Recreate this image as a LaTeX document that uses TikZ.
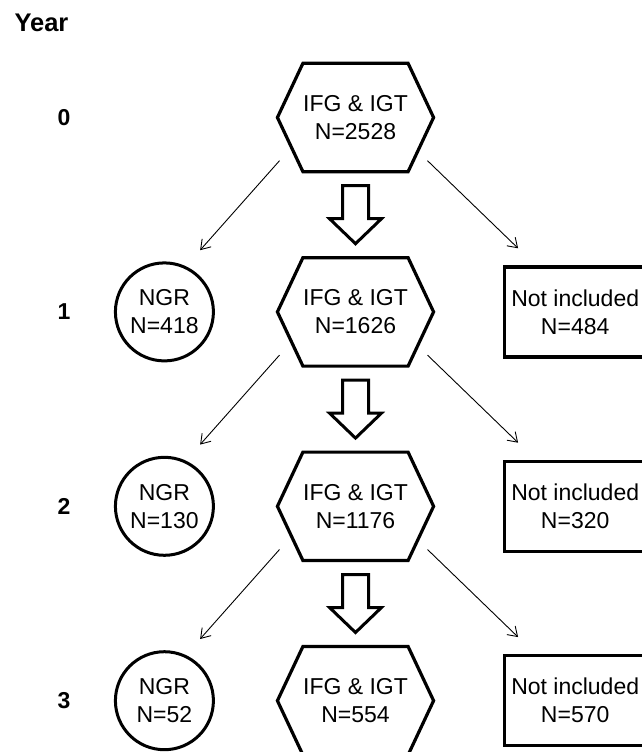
\documentclass[tikz,border=0pt]{standalone}
\usepackage{fontspec}
\setmainfont{Liberation Sans}
\usetikzlibrary{positioning,calc,arrows.meta}
\tikzset{
    hexnode/.style={rectangle, minimum width=102pt, minimum height=108pt, inner sep=0pt, align=center, font=\fontsize{23pt}{28pt}\selectfont},
    hexline/.style={draw=black, line width=3.2pt},
    ngrnode/.style={circle, draw=black, line width=3pt, minimum size=98pt, inner sep=0pt, align=center, font=\fontsize{23pt}{28pt}\selectfont},
    outnode/.style={rectangle, draw=black, line width=3.2pt, minimum width=141pt, minimum height=90pt, inner sep=0pt, align=center, font=\fontsize{23pt}{28pt}\selectfont},
    yearlabel/.style={font=\fontsize{23pt}{28pt}\selectfont\bfseries},
    bigarrow/.style={draw=black, line width=3pt, fill=white},
    thinarrow/.style={-{Straight Barb[length=9pt,width=12pt]}, line width=0.9pt}
}
\begin{document}
\begin{tikzpicture}[x=1pt, y=-1pt]
\useasboundingbox (0,0) rectangle (641,752);

\node[yearlabel, anchor=west, font=\fontsize{25.5pt}{30pt}\selectfont\bfseries] (year) at (11,22.5) {Year};

% centre column
\node[hexnode] (h0) at (355.5,117.5) {IFG \& IGT\\N=2528};
\node[hexnode, below=86pt of h0] (h1) {IFG \& IGT\\N=1626};
\node[hexnode, below=86pt of h1] (h2) {IFG \& IGT\\N=1176};
\node[hexnode, below=86pt of h2] (h3) {IFG \& IGT\\N=554};

\foreach \h in {h0,h1,h2,h3}
  \draw[hexline] (\h.north west) -- (\h.north east) -- ([xshift=25.5pt]\h.east)
    -- (\h.south east) -- (\h.south west) -- ([xshift=-25.5pt]\h.west) -- cycle;

% block arrows between the rows
\draw[bigarrow] ([shift={(-13pt,-14pt)}]h0.south) -- ++(0,33) -- ++(-13,0) -- ++(26,25) -- ++(26,-25) -- ++(-13,0) -- ++(0,-33) -- cycle;
\draw[bigarrow] ([shift={(-13pt,-14pt)}]h1.south) -- ++(0,33) -- ++(-13,0) -- ++(26,25) -- ++(26,-25) -- ++(-13,0) -- ++(0,-33) -- cycle;
\draw[bigarrow] ([shift={(-13pt,-14pt)}]h2.south) -- ++(0,33) -- ++(-13,0) -- ++(26,25) -- ++(26,-25) -- ++(-13,0) -- ++(0,-33) -- cycle;

% left column
\node[ngrnode, left=88pt of h1] (n1) {NGR\\N=418};
\node[ngrnode, left=88pt of h2] (n2) {NGR\\N=130};
\node[ngrnode, left=88pt of h3] (n3) {NGR\\N=52};

% right column
\node[outnode, right=95pt of h1] (r1) {Not included\\N=484};
\node[outnode, right=95pt of h2] (r2) {Not included\\N=320};
\node[outnode, right=95pt of h3] (r3) {Not included\\N=570};

% years
\node[yearlabel] (y0) at (64,117.5) {0};
\node[yearlabel] (y1) at (y0 |- h1) {1};
\node[yearlabel] (y2) at (y0 |- h2) {2};
\node[yearlabel] (y3) at (y0 |- h3) {3};

\draw[thinarrow] ([shift={(-76pt,11pt)}]h0.south) -- ([yshift=26pt]n1.north east);
\draw[thinarrow] ([shift={(72pt,11pt)}]h0.south) -- ([shift={(15pt,17pt)}]r1.north west);
\draw[thinarrow] ([shift={(-76pt,11pt)}]h1.south) -- ([yshift=26pt]n2.north east);
\draw[thinarrow] ([shift={(72pt,11pt)}]h1.south) -- ([shift={(15pt,17pt)}]r2.north west);
\draw[thinarrow] ([shift={(-76pt,11pt)}]h2.south) -- ([yshift=26pt]n3.north east);
\draw[thinarrow] ([shift={(72pt,11pt)}]h2.south) -- ([shift={(15pt,17pt)}]r3.north west);

\end{tikzpicture}
\end{document}
